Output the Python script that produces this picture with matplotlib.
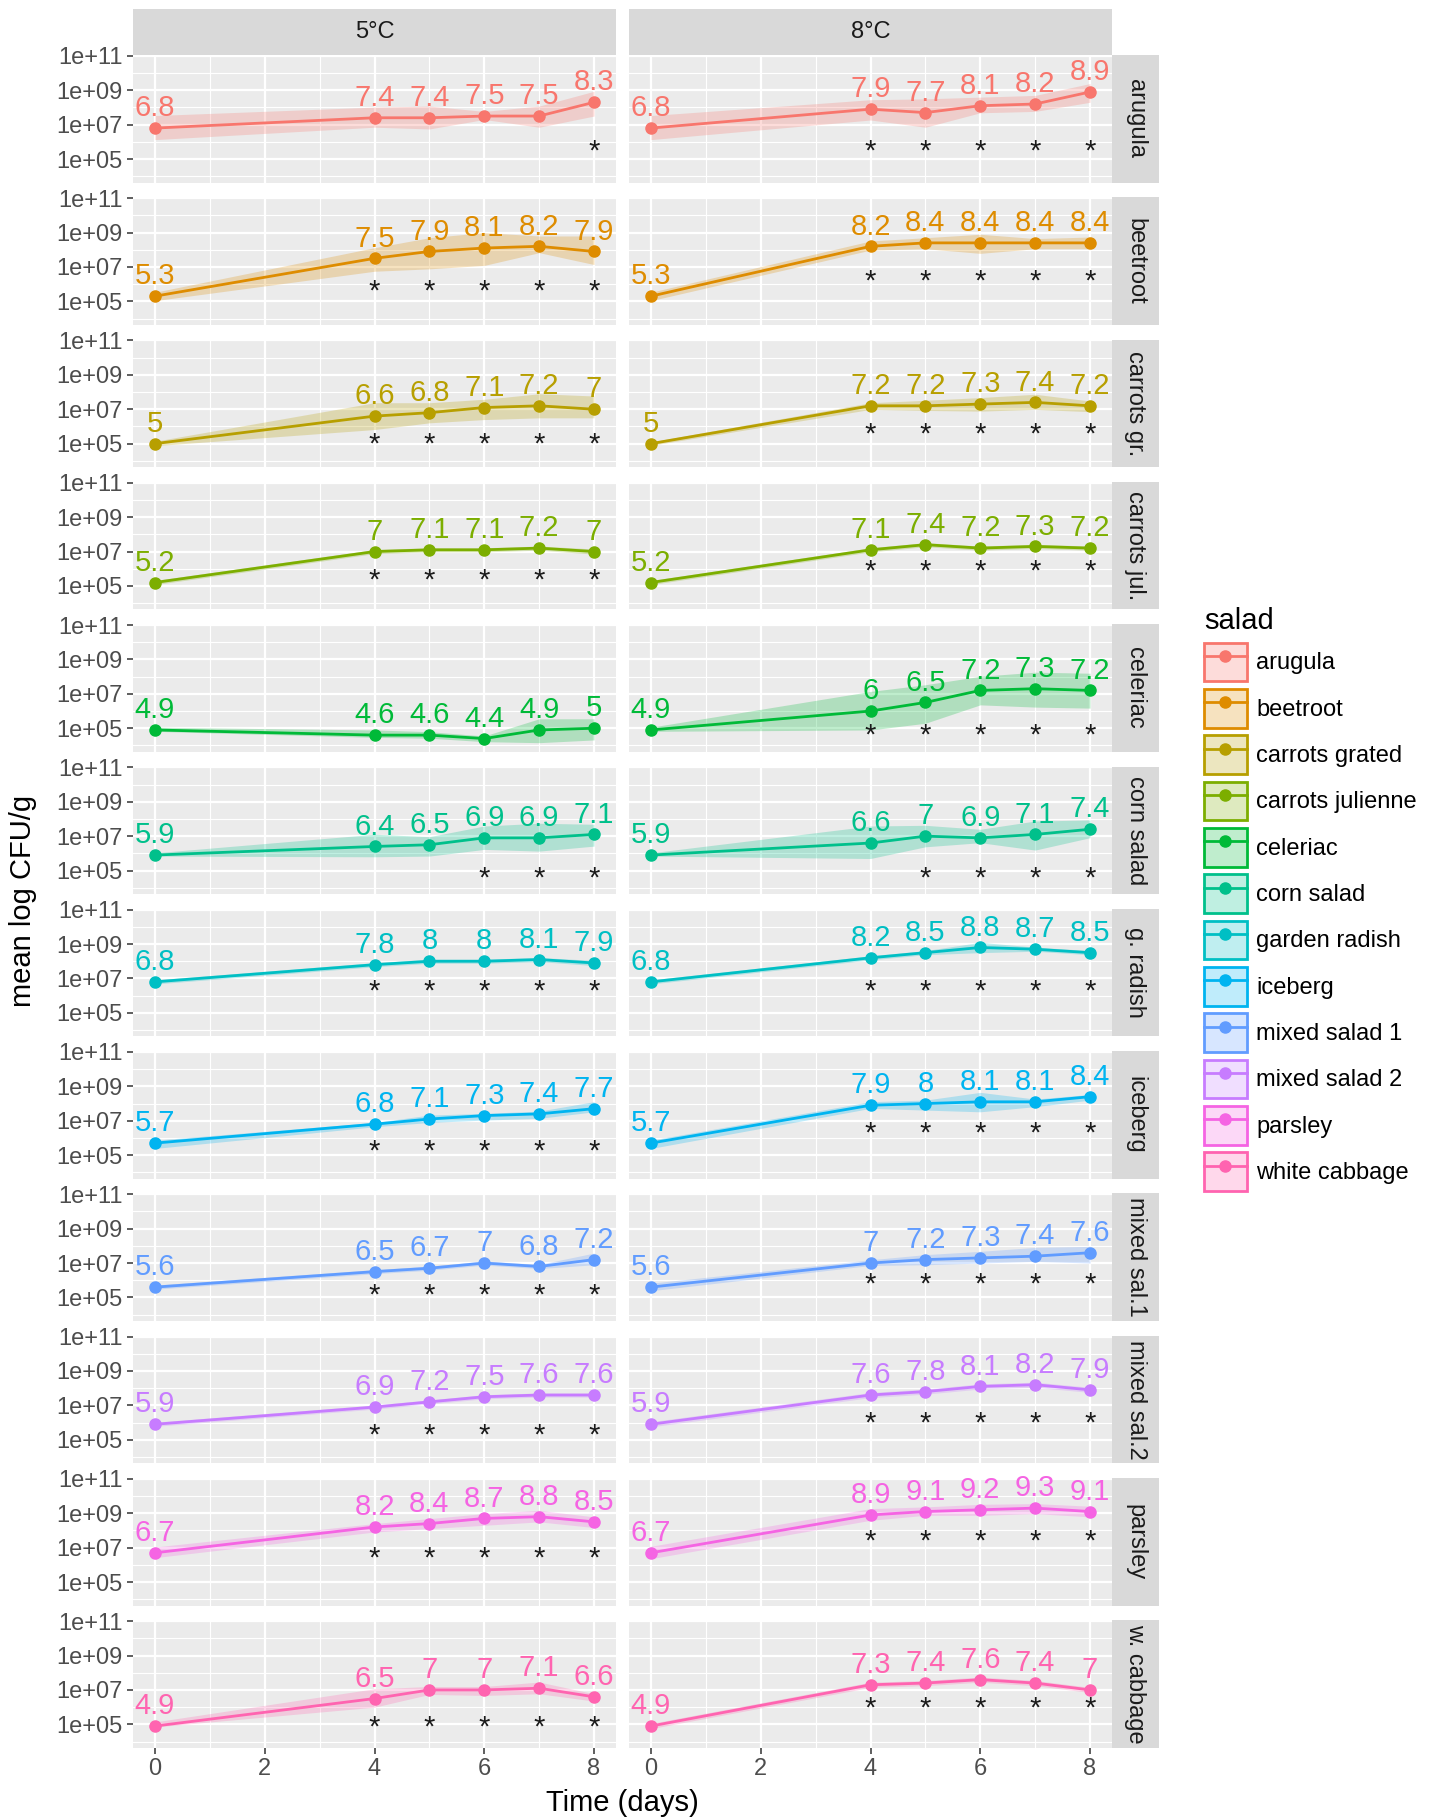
import numpy as np
import matplotlib.pyplot as plt
import matplotlib.colors as mcolors
from matplotlib.patches import Patch
from matplotlib.lines import Line2D
from matplotlib.ticker import FuncFormatter, NullFormatter

plt.rcParams['font.family'] = ['Liberation Sans', 'DejaVu Sans']

days = [0, 4, 5, 6, 7, 8]
temps = ['5°C', '8°C']
salads = ['arugula', 'beetroot', 'carrots grated', 'carrots julienne', 'celeriac',
          'corn salad', 'garden radish', 'iceberg', 'mixed salad 1', 'mixed salad 2',
          'parsley', 'white cabbage']
row_labels = ['arugula', 'beetroot', 'carrots gr.', 'carrots jul.', 'celeriac',
              'corn salad', 'g. radish', 'iceberg', 'mixed sal.1', 'mixed sal.2',
              'parsley', 'w. cabbage']
colors = ['#F8766D', '#DE8C00', '#B79F00', '#7CAE00', '#00BA38', '#00C08B',
          '#00BFC4', '#00B4F0', '#619CFF', '#C77CFF', '#F564E3', '#FF64B0']

# mean log CFU/g at 5°C and the band around it
mean_5 = [[6.8, 7.4, 7.4, 7.5, 7.5, 8.3],
          [5.3, 7.5, 7.9, 8.1, 8.2, 7.9],
          [5.0, 6.6, 6.8, 7.1, 7.2, 7.0],
          [5.2, 7.0, 7.1, 7.1, 7.2, 7.0],
          [4.9, 4.6, 4.6, 4.4, 4.9, 5.0],
          [5.9, 6.4, 6.5, 6.9, 6.9, 7.1],
          [6.8, 7.8, 8.0, 8.0, 8.1, 7.9],
          [5.7, 6.8, 7.1, 7.3, 7.4, 7.7],
          [5.6, 6.5, 6.7, 7.0, 6.8, 7.2],
          [5.9, 6.9, 7.2, 7.5, 7.6, 7.6],
          [6.7, 8.2, 8.4, 8.7, 8.8, 8.5],
          [4.9, 6.5, 7.0, 7.0, 7.1, 6.6]]
lo_5 = [[6.13, 6.85, 6.75, 7.30, 6.85, 7.50],
        [5.04, 6.75, 6.89, 7.09, 7.83, 7.14],
        [4.88, 5.82, 6.21, 6.40, 6.50, 6.50],
        [5.08, 6.88, 6.98, 6.98, 7.08, 6.85],
        [4.82, 4.47, 4.42, 4.22, 4.16, 4.32],
        [5.84, 5.80, 5.84, 6.23, 6.13, 6.42],
        [6.68, 7.68, 7.88, 7.88, 7.98, 7.75],
        [5.39, 6.65, 6.90, 7.04, 7.14, 7.52],
        [5.48, 6.38, 6.58, 6.88, 6.68, 6.90],
        [5.78, 6.78, 7.08, 7.38, 7.48, 7.48],
        [6.42, 7.91, 8.11, 8.30, 8.50, 8.17],
        [4.85, 6.00, 6.74, 6.68, 6.78, 6.35]]
hi_5 = [[7.53, 8.02, 8.08, 7.77, 8.08, 8.94],
        [5.53, 8.12, 8.70, 9.00, 8.80, 8.80],
        [5.14, 7.38, 7.38, 7.58, 7.90, 7.77],
        [5.32, 7.12, 7.22, 7.22, 7.32, 7.15],
        [5.06, 4.90, 4.80, 4.55, 5.55, 5.55],
        [6.03, 7.11, 6.97, 7.59, 7.75, 7.69],
        [6.92, 7.92, 8.12, 8.12, 8.22, 8.05],
        [5.87, 6.90, 7.33, 7.43, 7.56, 8.11],
        [5.72, 6.62, 6.82, 7.12, 6.92, 7.58],
        [6.02, 7.02, 7.32, 7.62, 7.72, 7.72],
        [7.04, 8.40, 8.69, 8.98, 9.17, 8.79],
        [5.14, 7.07, 7.20, 7.20, 7.46, 6.78]]

# mean log CFU/g at 8°C and the band around it
mean_8 = [[6.8, 7.9, 7.7, 8.1, 8.2, 8.9],
          [5.3, 8.2, 8.4, 8.4, 8.4, 8.4],
          [5.0, 7.2, 7.2, 7.3, 7.4, 7.2],
          [5.2, 7.1, 7.4, 7.2, 7.3, 7.2],
          [4.9, 6.0, 6.5, 7.2, 7.3, 7.2],
          [5.9, 6.6, 7.0, 6.9, 7.1, 7.4],
          [6.8, 8.2, 8.5, 8.8, 8.7, 8.5],
          [5.7, 7.9, 8.0, 8.1, 8.1, 8.4],
          [5.6, 7.0, 7.2, 7.3, 7.4, 7.6],
          [5.9, 7.6, 7.8, 8.1, 8.2, 7.9],
          [6.7, 8.9, 9.1, 9.2, 9.3, 9.1],
          [4.9, 7.3, 7.4, 7.6, 7.4, 7.0]]
lo_8 = [[6.13, 7.27, 6.85, 7.69, 7.77, 8.30],
        [5.04, 7.98, 8.06, 7.79, 8.06, 8.06],
        [4.90, 6.99, 6.93, 6.89, 6.99, 6.86],
        [5.08, 6.98, 7.28, 7.08, 7.18, 7.08],
        [4.82, 4.90, 5.29, 6.36, 6.23, 6.17],
        [5.84, 5.70, 6.38, 6.62, 6.19, 6.91],
        [6.68, 8.08, 8.38, 8.50, 8.58, 8.38],
        [5.39, 7.72, 7.62, 7.52, 7.82, 8.20],
        [5.39, 6.86, 6.90, 7.00, 7.10, 7.00],
        [5.75, 7.45, 7.65, 7.95, 8.05, 7.75],
        [6.36, 8.59, 8.88, 8.88, 8.98, 8.79],
        [4.75, 7.15, 7.25, 7.45, 7.25, 6.85]]
hi_8 = [[7.53, 8.45, 8.50, 8.60, 8.70, 9.39],
        [5.53, 8.51, 8.70, 8.90, 8.65, 8.74],
        [5.10, 7.38, 7.52, 7.68, 7.87, 7.48],
        [5.32, 7.22, 7.52, 7.32, 7.42, 7.32],
        [5.06, 7.14, 7.53, 8.02, 8.26, 8.20],
        [6.03, 7.59, 7.63, 7.40, 7.88, 7.94],
        [6.92, 8.32, 8.62, 9.10, 8.82, 8.62],
        [5.87, 8.11, 8.20, 8.65, 8.26, 8.53],
        [5.83, 7.19, 7.49, 7.68, 7.91, 7.97],
        [6.05, 7.75, 7.95, 8.25, 8.35, 8.05],
        [7.08, 9.27, 9.37, 9.52, 9.56, 9.41],
        [5.05, 7.45, 7.55, 7.75, 7.55, 7.15]]

# days marked significant, and the level the asterisks sit at (log10)
stars_5 = [[8], [4, 5, 6, 7, 8], [4, 5, 6, 7, 8], [4, 5, 6, 7, 8], [],
           [6, 7, 8], [4, 5, 6, 7, 8], [4, 5, 6, 7, 8], [4, 5, 6, 7, 8],
           [4, 5, 6, 7, 8], [4, 5, 6, 7, 8], [4, 5, 6, 7, 8]]
stars_8 = [[4, 5, 6, 7, 8], [4, 5, 6, 7, 8], [4, 5, 6, 7, 8], [4, 5, 6, 7, 8],
           [4, 5, 6, 7, 8], [5, 6, 7, 8], [4, 5, 6, 7, 8], [4, 5, 6, 7, 8],
           [4, 5, 6, 7, 8], [4, 5, 6, 7, 8], [4, 5, 6, 7, 8], [4, 5, 6, 7, 8]]
star_lvl_5 = [5.97, 6.07, 5.43, 5.82, 5.0, 5.06, 6.75, 5.72, 5.60, 5.75, 6.90, 5.33]
star_lvl_8 = [5.97, 6.66, 6.02, 6.35, 5.06, 5.06, 6.75, 6.75, 6.26, 6.43, 7.87, 6.43]

W, H = 1436, 1820
fig = plt.figure(figsize=(W / 100, H / 100), dpi=100)

col_x = [133, 629]
pw = 483
top0 = 55
pitch = 142.3
ph = 127.6
strip_w = 47
SMALL = 17
BIG = 21


def box(x, y, w, h):
    return [x / W, 1 - (y + h) / H, w / W, h / H]


def sci(v, pos):
    return '1e+%02d' % int(round(np.log10(v)))


series = [(mean_5, lo_5, hi_5, stars_5, star_lvl_5),
          (mean_8, lo_8, hi_8, stars_8, star_lvl_8)]

for i in range(len(salads)):
    top = top0 + pitch * i
    c = colors[i]
    for j in range(2):
        mean, lo, hi, stars, slvl = series[j]
        ax = fig.add_axes(box(col_x[j], top, pw, ph))
        ax.set_facecolor('#EBEBEB')
        ax.set_yscale('log')
        ax.set_xlim(-0.4, 8.4)
        ax.set_ylim(10 ** 3.63, 10 ** 11.05)
        ax.set_xticks([0, 2, 4, 6, 8])
        ax.set_xticks([1, 3, 5, 7], minor=True)
        ax.set_yticks([1e5, 1e7, 1e9, 1e11])
        ax.set_yticks([1e4, 1e6, 1e8, 1e10], minor=True)
        ax.yaxis.set_major_formatter(FuncFormatter(sci))
        ax.yaxis.set_minor_formatter(NullFormatter())
        ax.grid(which='major', color='white', lw=1.6)
        ax.grid(which='minor', color='white', lw=0.8)
        ax.set_axisbelow(True)
        for s in ax.spines.values():
            s.set_visible(False)
        ax.tick_params(which='major', color='#333333', length=4.5, width=1.1,
                       labelsize=SMALL, labelcolor='#4D4D4D', pad=3)
        ax.tick_params(which='minor', length=0)
        ax.tick_params(axis='y', left=(j == 0), labelleft=(j == 0))
        ax.tick_params(axis='x', bottom=(i == len(salads) - 1),
                       labelbottom=(i == len(salads) - 1))

        m = np.array(mean[i])
        ax.fill_between(days, 10 ** np.array(lo[i]), 10 ** np.array(hi[i]),
                        color=c, alpha=0.25, lw=0)
        ax.plot(days, 10 ** m, color=c, lw=2.0, marker='o', ms=8)
        for d, v in zip(days, m):
            ax.annotate(f'{v:g}', (d, 10 ** v), xytext=(0, 8.5),
                        textcoords='offset points', ha='center', va='baseline',
                        color=c, fontsize=BIG, annotation_clip=False)
        for d in stars[i]:
            ax.annotate('*', (d, 10 ** slvl[i]), xytext=(0, -0.575 * BIG),
                        textcoords='offset points', ha='center', va='baseline',
                        color='#1A1A1A', fontsize=BIG, annotation_clip=False)

    # facet label on the right
    sx = fig.add_axes(box(col_x[1] + pw, top, strip_w, ph))
    sx.set_facecolor('#D9D9D9')
    sx.set_xticks([])
    sx.set_yticks([])
    for s in sx.spines.values():
        s.set_visible(False)
    sx.text(0.5, 0.5, row_labels[i], rotation=-90, ha='center', va='center',
            fontsize=SMALL, color='#1A1A1A', transform=sx.transAxes)

# temperature strips on top
for j in range(2):
    sx = fig.add_axes(box(col_x[j], 9, pw, top0 - 9))
    sx.set_facecolor('#D9D9D9')
    sx.set_xticks([])
    sx.set_yticks([])
    for s in sx.spines.values():
        s.set_visible(False)
    sx.text(0.5, 0.5, temps[j], ha='center', va='center', fontsize=SMALL,
            color='#1A1A1A', transform=sx.transAxes)

fig.text(622 / W, 1 - 1803 / H, 'Time (days)', ha='center', va='center',
         fontsize=BIG)
fig.text(23 / W, 1 - 901 / H, 'mean log CFU/g', ha='center', va='center',
         rotation=90, fontsize=BIG)

handles = []
for c in colors:
    patch = Patch(facecolor=mcolors.to_rgba(c, 0.25), edgecolor=c, lw=2)
    line = Line2D([], [], color=c, lw=2.0, marker='o', ms=8)
    handles.append((patch, line))
fig.legend(handles, salads, title='salad', loc='center left',
           bbox_to_anchor=(1204 / W, 1 - 899 / H), frameon=False,
           fontsize=SMALL, title_fontsize=BIG, handlelength=1.8,
           handleheight=2.15, labelspacing=0.32, handletextpad=0.4,
           borderpad=0, borderaxespad=0, alignment='left')

fig.savefig('out.png', dpi=100)
